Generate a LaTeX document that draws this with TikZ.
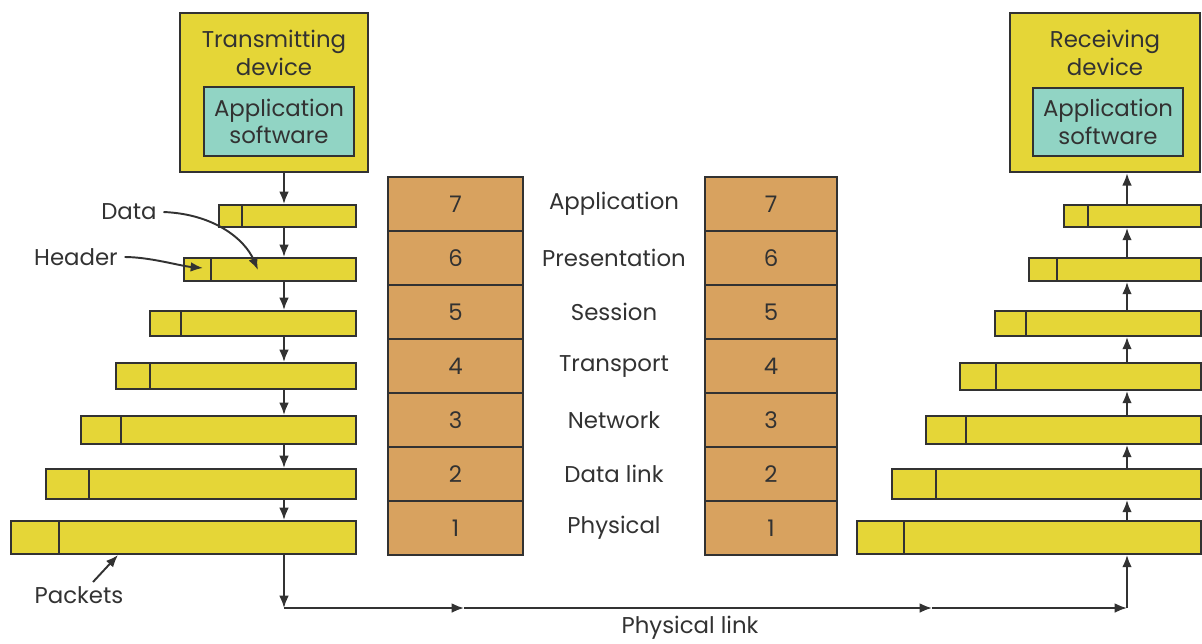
\documentclass[tikz,border=0pt]{standalone}
\usepackage{fontspec}
\setmainfont{Poppins}
\usetikzlibrary{arrows.meta}

\definecolor{pktyellow}{RGB}{229,214,55}
\definecolor{layertan}{RGB}{216,162,95}
\definecolor{appcyan}{RGB}{145,212,196}
\definecolor{inkgray}{RGB}{50,50,50}

\begin{document}
\begin{tikzpicture}[x=0.02cm,y=-0.02cm,->,>={Latex[length=7pt,width=5.5pt]},line width=1.1pt,draw=inkgray,
  every node/.style={font=\fontsize{13}{15.5}\selectfont,text=inkgray},
  device/.style={draw,fill=pktyellow,line width=1.4pt,minimum height=3.18cm,inner sep=0},
  appbox/.style={draw,fill=appcyan,line width=1.4pt,minimum width=3cm,minimum height=1.37cm,align=center,inner sep=0},
  packet/.style={draw,fill=pktyellow,anchor=north west,inner sep=0},
  layer/.style={draw,fill=layertan,minimum height=1.08cm,inner sep=0}]
  \useasboundingbox (0,0) rectangle (1202,643);

  % devices
  \node[device,minimum width=3.76cm] (tx) at (274,92.5) {};
  \node[align=center] (txname) at (274,53) {Transmitting\\device};
  \node[appbox] (txapp) at (279,121.5) {Application\\software};
  \node[device,minimum width=3.8cm] (rx) at (1105,92.5) {};
  \node[align=center] (rxname) at (1105,53) {Receiving\\device};
  \node[appbox] (rxapp) at (1108,122) {Application\\software};

  \coordinate (tdown) at (284,0);
  \coordinate (rup) at (1127,0);

  % packets, sending side
  \foreach \i/\l/\t/\b/\d in {1/218/204/226/242, 2/183/257/280/211, 3/149/310/335/181,
      4/115/362/388/150, 5/80/415/443/121, 6/45/468/498/89, 7/10/520/553/59} {
    \node[packet,minimum width={(355-\l)*0.02cm},minimum height={(\b-\t)*0.02cm}] (pL\i) at (\l,\t) {};
    \draw[-] (\d,\t) -- (\d,\b);
  }
  % packets, receiving side
  \foreach \i/\l/\t/\b/\d in {1/1063/204/226/1088, 2/1028/257/280/1057, 3/994/310/335/1026,
      4/959/362/389/996, 5/925/415/443/966, 6/891/468/498/936, 7/856/520/553/904} {
    \node[packet,minimum width={(1200-\l)*0.02cm},minimum height={(\b-\t)*0.02cm}] (pR\i) at (\l,\t) {};
    \draw[-] (\d,\t) -- (\d,\b);
  }

  % layer stacks
  \foreach \n/\name [count=\k from 0] in {7/Application, 6/Presentation, 5/Session,
      4/Transport, 3/Network, 2/Data link, 1/Physical} {
    \node[layer,minimum width=2.7cm] (sL\n) at (455.5,204+54*\k) {\n};
    \node[layer,minimum width=2.64cm] (sR\n) at (771,204+54*\k) {\n};
    \node (name\n) at (614,204+54*\k) {\name};
  }

  % flow down and up
  \draw (tx.south -| tdown) -- (pL1.north -| tdown);
  \foreach \i [evaluate=\i as \j using int(\i+1)] in {1,...,6} {
    \draw (pL\i.south -| tdown) -- (pL\j.north -| tdown);
    \draw (pR\j.north -| rup) -- (pR\i.south -| rup);
  }
  \draw (pR1.north -| rup) -- (rx.south -| rup);

  % physical link
  \coordinate (linkL) at (284,608);
  \coordinate (mid1) at (464,608);
  \coordinate (mid2) at (932,608);
  \coordinate (linkR) at (1127,608);
  \draw (pL7.south -| linkL) -- (linkL);
  \draw (linkL) -- (mid1);
  \draw (mid1) -- (mid2);
  \draw (mid2) -- (linkR);
  \draw (linkR) -- (pR7.south -| linkR);
  \node (link) at (690,628) {Physical link};

  % callouts
  \node (data) at (129,212) {Data};
  \node (header) at (76,257) {Header};
  \node (packets) at (79,595) {Packets};
  \coordinate (datatip) at (258,270);
  \coordinate (headtip) at (203,268);
  \coordinate (pktfrom) at (93,582);
  \coordinate (pkttip) at (118,555);
  \draw (data.east) .. controls (215,214) and (245,240) .. (datatip);
  \draw (header.east) .. controls (150,257) and (180,266) .. (headtip);
  \draw (pktfrom) -- (pkttip);
\end{tikzpicture}
\end{document}
